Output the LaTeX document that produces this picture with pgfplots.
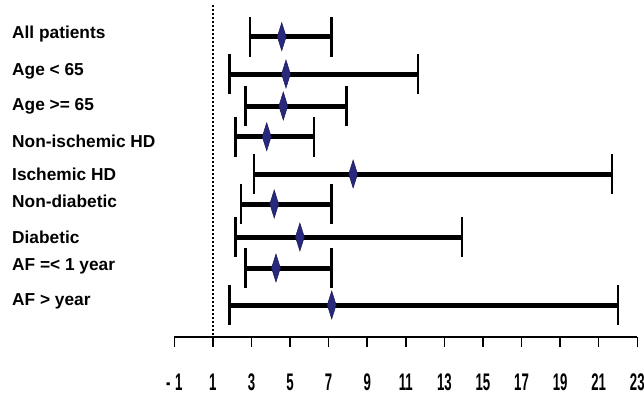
\documentclass[border=0pt]{standalone}
\usepackage{fontspec}
\setmainfont{Liberation Sans}
\usepackage{pgfplots}
\usepackage{pgfplotstable}
\pgfplotsset{compat=1.18}
\definecolor{dnavy}{RGB}{40,40,125}
\newcommand{\cond}[1]{\scalebox{0.55}[1]{#1}}
\pgfplotstableread{
y      v     lo    hi
-36.7  4.57  2.92  7.16
-74    4.79  1.85  11.64
-106   4.65  2.70  7.93
-136.7 3.79  2.16  6.25
-174   8.27  3.13  21.69
-204   4.18  2.46  7.16
-237   5.51  2.16  13.92
-268   4.27  2.70  7.16
-305   7.16  1.85  22.00
}\forest
\begin{document}
\begin{tikzpicture}
\path[use as bounding box] (0,0) rectangle (644bp,-397bp);
\begin{axis}[
  at={(174.3bp,-337bp)}, anchor=south west,
  scale only axis, width=463bp, height=332bp,
  xmin=-1, xmax=23, ymin=-337, ymax=-5,
  clip=false,
  axis x line*=bottom, axis y line*=left,
  x axis line style={-, line width=1.5bp},
  y axis line style={draw=none},
  xtick={-1,1,...,23},
  xticklabels={\cond{-\,\,1},\cond{1},\cond{3},\cond{5},\cond{7},\cond{9},\cond{11},\cond{13},\cond{15},\cond{17},\cond{19},\cond{21},\cond{23}},
  xticklabel style={font=\bfseries\fontsize{24bp}{26bp}\selectfont, yshift=-23bp},
  tick align=outside, major tick length=10bp,
  xtick style={line width=1.5bp, black},
  ytick={-38,-75,-110,-147,-180,-207,-243,-270,-305},
  yticklabels={All patients,Age < 65,Age >= 65,Non-ischemic HD,Ischemic HD,Non-diabetic,Diabetic,AF =< 1 year,AF > year},
  ytick style={draw=none},
  yticklabel style={font=\bfseries\fontsize{17.3bp}{20bp}\selectfont, anchor=base west, inner sep=0pt, xshift=-152.3bp},
]
\addplot[black, line width=1.3bp, dash pattern=on 2bp off 2bp] coordinates {(1,-5) (1,-347)};
\addplot[only marks, mark=diamond*, mark size=14bp,
  mark options={xscale=0.42, fill=dnavy, draw=dnavy!70!black, line width=0.5bp},
  error bars/.cd, x dir=both, x explicit,
  error bar style={line width=5bp, black},
  error mark options={black, mark size=20bp, line width=2.5bp, rotate=90}]
  table[x=v, y=y, x error plus expr=\thisrow{hi}-\thisrow{v}, x error minus expr=\thisrow{v}-\thisrow{lo}] {\forest};
\end{axis}
\end{tikzpicture}
\end{document}
